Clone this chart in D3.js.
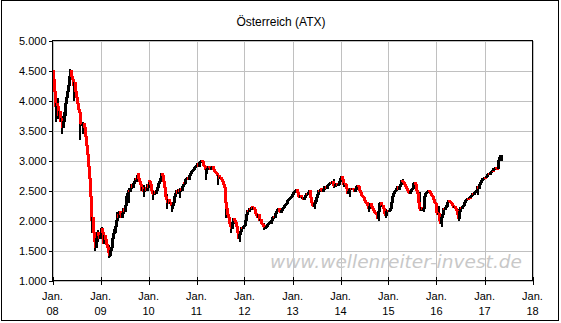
<!DOCTYPE html>
<html>
<head>
<meta charset="utf-8">
<script src="https://cdn.jsdelivr.net/npm/d3@7"></script>
<style>
    body { margin: 0; background: #fff; }
    svg text { font-family: Arial, "Liberation Sans", sans-serif; }
</style>
</head>
<body>
<div id="chart"></div>
<script>
// weekly closes (first week ends 2008-01-04)
const chartTitle = 'Österreich (ATX)';
const watermark = 'www.wellenreiter-invest.de';
const firstWeek = '2008-01-04';
const firstOpen = 4500;

const closes2008 = [4350, 4150, 3900, 3950, 3850, 3900, 3750, 3820, 3650, 3700, 3550, 3650,
    3800, 3950, 4050, 4150, 4250, 4300, 4400, 4500, 4400, 4350, 4250, 4300,
    4150, 4050, 3950, 3850, 3800, 3700, 3620, 3600, 3600, 3620, 3550, 3400,
    3250, 3100, 2900, 2700, 2400, 2000, 1900, 2050, 1800, 1650, 1550, 1700,
    1800, 1750, 1700, 1750];
const closes2009 = [1870, 1800, 1700, 1620, 1750, 1680, 1600, 1550, 1470, 1420, 1500, 1550,
    1700, 1780, 1850, 1800, 1900, 2000, 2100, 2050, 2150, 2100, 2050, 2120,
    2200, 2150, 2250, 2350, 2400, 2450, 2500, 2480, 2540, 2600, 2550, 2620,
    2650, 2700, 2680, 2750, 2780, 2700, 2650, 2600, 2500, 2550, 2480, 2520,
    2550, 2500, 2600, 2550];
const closes2010 = [2670, 2650, 2600, 2500, 2450, 2430, 2480, 2450, 2500, 2550, 2620, 2650,
    2700, 2720, 2780, 2750, 2650, 2550, 2400, 2350, 2300, 2350, 2280, 2300,
    2250, 2200, 2250, 2300, 2400, 2450, 2500, 2450, 2520, 2480, 2540, 2500,
    2560, 2600, 2640, 2620, 2680, 2700, 2720, 2680, 2750, 2780, 2820, 2840,
    2850, 2880, 2900, 2900];
const closes2011 = [2920, 2950, 2900, 2960, 2980, 3000, 2980, 2920, 2900, 2850, 2780, 2850,
    2870, 2900, 2880, 2850, 2880, 2900, 2850, 2820, 2800, 2780, 2750, 2720,
    2750, 2700, 2720, 2680, 2650, 2600, 2550, 2300, 2200, 2100, 2050, 1980,
    1950, 1900, 1870, 1950, 2030, 2000, 1970, 1900, 1800, 1700, 1760, 1820,
    1850, 1890, 1870, 1900];
const closes2012 = [1920, 2000, 2100, 2170, 2150, 2200, 2180, 2220, 2230, 2200, 2220, 2180,
    2110, 2080, 2050, 2100, 2000, 2020, 1950, 1930, 1900, 1920, 1880, 1890,
    1900, 1930, 1950, 1970, 1980, 2000, 2030, 2060, 2050, 2090, 2110, 2150,
    2180, 2200, 2150, 2140, 2170, 2200, 2220, 2250, 2260, 2290, 2300, 2330,
    2350, 2370, 2380, 2400];
const closes2013 = [2440, 2470, 2480, 2500, 2510, 2460, 2430, 2400, 2390, 2420, 2380, 2390,
    2350, 2380, 2420, 2450, 2440, 2460, 2500, 2480, 2380, 2300, 2250, 2230, 2280,
    2320, 2380, 2440, 2500, 2480, 2520, 2540, 2500, 2480, 2520, 2560, 2570, 2540,
    2580, 2600, 2620, 2640, 2620, 2650, 2600, 2580, 2560,
    2600, 2620, 2580, 2600, 2650];
const closes2014 = [2700, 2730, 2680, 2600, 2560, 2620, 2600, 2540, 2450, 2480, 2520, 2540, 2530,
    2540, 2510, 2480, 2510, 2540, 2560, 2580, 2560, 2500, 2470, 2420, 2400, 2380,
    2340, 2300, 2280, 2300, 2250, 2200, 2230, 2280, 2240, 2200, 2160, 2140, 2120,
    2100, 2030, 2150, 2200, 2280, 2300, 2250, 2250, 2200, 2120, 2080, 2150, 2170];
const closes2015 = [2150, 2170, 2180, 2200, 2300, 2400, 2450, 2480, 2500, 2540, 2560, 2520, 2560,
    2600, 2640, 2670, 2650, 2640, 2600, 2560, 2540, 2500, 2470, 2450, 2480, 2520,
    2540, 2580, 2620, 2640, 2600, 2500, 2450, 2300, 2200, 2170, 2220, 2180, 2200,
    2300, 2400, 2450, 2470, 2480, 2500, 2480, 2450, 2420, 2400, 2350, 2300, 2280];
const closes2016 = [2200, 2140, 2100, 2120, 2000, 1950, 2050, 2100, 2200, 2180, 2220, 2250, 2230,
    2300, 2340, 2320, 2300, 2280, 2250, 2220, 2240, 2200, 2170, 2100, 2030, 2080,
    2150, 2220, 2200, 2230, 2250, 2300, 2330, 2350, 2370, 2360, 2390, 2380, 2400,
    2420, 2450, 2430, 2460, 2480, 2500, 2560, 2540, 2600, 2640, 2670, 2680, 2700];
const closes2017 = [2700, 2720, 2710, 2740, 2760, 2780, 2770, 2800, 2820, 2840, 2830, 2860,
    2870, 2880, 2870, 2860, 3000, 3050, 3080];

// weekly high/low spikes that stick out of the bars: [week ending, low, high]
const wicks = [
    ['2008-01-25', 3650, 4000], ['2008-02-15', 3700, 4050], ['2008-03-14', 3450, 3750],
    ['2008-04-11', 3750, 4000], ['2008-05-16', 4350, 4530], ['2008-06-13', 4000, 4300],
    ['2008-08-01', 3350, 3700], ['2008-08-22', 3450, 3650], ['2008-10-24', 1800, 2250],
    ['2008-11-21', 1500, 1800], ['2008-12-12', 1650, 1850], ['2009-01-09', 1750, 1900],
    ['2009-03-06', 1380, 1600], ['2009-03-13', 1400, 1550], ['2009-05-08', 1950, 2150],
    ['2009-08-07', 2300, 2550], ['2009-10-16', 2650, 2800], ['2009-11-27', 2400, 2600],
    ['2010-02-05', 2350, 2500], ['2010-05-21', 2200, 2450], ['2010-07-02', 2150, 2300],
    ['2010-08-27', 2380, 2550], ['2011-03-18', 2670, 2900], ['2011-06-17', 2600, 2780],
    ['2011-08-12', 2050, 2350], ['2011-09-23', 1800, 1980], ['2011-11-25', 1650, 1830],
    ['2012-06-01', 1850, 1960], ['2012-07-27', 1950, 2060], ['2013-06-21', 2200, 2350],
    ['2013-11-15', 2550, 2700], ['2014-01-17', 2600, 2750], ['2014-03-14', 2400, 2540],
    ['2014-08-08', 2150, 2300], ['2014-10-17', 2000, 2200], ['2014-12-12', 2040, 2200],
    ['2015-04-24', 2600, 2700], ['2015-08-28', 2250, 2480], ['2015-09-25', 2150, 2300],
    ['2016-01-22', 2050, 2250], ['2016-02-12', 1900, 2050], ['2016-06-24', 1990, 2200],
    ['2016-11-11', 2420, 2560], ['2017-05-12', 3000, 3100]
];

const yTicks = [1000, 1500, 2000, 2500, 3000, 3500, 4000, 4500, 5000];
const xTickYears = [2008, 2009, 2010, 2011, 2012, 2013, 2014, 2015, 2016, 2017, 2018];
const xTickLabels = ['08', '09', '10', '11', '12', '13', '14', '15', '16', '17', '18'];

(function () {
    'use strict';

    let width = 561;
    let height = 323;
    let plot = { left: 52.5, right: 532.5, top: 40.5, bottom: 280.5 };
    let parseDay = d3.timeParse('%Y-%m-%d');

    let svg = d3.select('#chart').append('svg')
        .attr('width', width)
        .attr('height', height);

    svg.append('rect')
        .attr('x', 1.5).attr('y', 0.5)
        .attr('width', 557).attr('height', 320)
        .style('fill', '#fff')
        .style('stroke', '#000');

    svg.append('text')
        .attr('x', 281).attr('y', 26)
        .attr('text-anchor', 'middle')
        .style('font-size', '12px')
        .text(chartTitle);

    let xScale = d3.scaleTime()
        .domain([new Date(xTickYears[0], 0, 1), new Date(xTickYears[xTickYears.length - 1], 0, 1)])
        .range([plot.left, plot.right]);
    let yScale = d3.scaleLinear()
        .domain([yTicks[0], yTicks[yTicks.length - 1]])
        .range([plot.bottom, plot.top]);

    let de = d3.formatLocale({ decimal: ',', thousands: '.', grouping: [3], currency: ['', ' €'] });
    let fmt = de.format(',d');

    // grid
    let grid = svg.append('g').attr('class', 'grid')
        .style('stroke', '#c0c0c0')
        .style('shape-rendering', 'crispEdges');
    grid.selectAll('.gx')
        .data(xTickYears)
        .enter().append('line')
        .attr('x1', function (d) { return Math.round(xScale(new Date(d, 0, 1))) + 0.5; })
        .attr('x2', function (d) { return Math.round(xScale(new Date(d, 0, 1))) + 0.5; })
        .attr('y1', plot.top)
        .attr('y2', plot.bottom);
    grid.selectAll('.gy')
        .data(yTicks)
        .enter().append('line')
        .attr('x1', plot.left)
        .attr('x2', plot.right)
        .attr('y1', function (d) { return Math.round(yScale(d)) + 0.5; })
        .attr('y2', function (d) { return Math.round(yScale(d)) + 0.5; });

    svg.append('text')
        .attr('x', 396).attr('y', 268)
        .attr('text-anchor', 'middle')
        .attr('textLength', 252)
        .attr('lengthAdjust', 'spacingAndGlyphs')
        .style('font-family', '"DejaVu Sans", Verdana, sans-serif')
        .style('font-style', 'italic')
        .style('font-size', '17px')
        .style('fill', '#c8c8c8')
        .text(watermark);

    // weekly bars: open = previous close
    let start = parseDay(firstWeek);
    let closes = [].concat(closes2008, closes2009, closes2010, closes2011, closes2012,
        closes2013, closes2014, closes2015, closes2016, closes2017);
    let bars = closes.map(function (c, i) {
        return {
            date: d3.timeDay.offset(start, i * 7),
            open: i === 0 ? firstOpen : closes[i - 1],
            close: c
        };
    });

    svg.append('g').attr('class', 'wicks')
        .style('shape-rendering', 'crispEdges')
        .selectAll('rect')
        .data(wicks)
        .enter().append('rect')
        .attr('x', function (d) { return Math.round(xScale(parseDay(d[0]))) - 1; })
        .attr('y', function (d) { return yScale(d[2]); })
        .attr('width', 2)
        .attr('height', function (d) { return yScale(d[1]) - yScale(d[2]); })
        .style('fill', '#000');

    svg.append('g').attr('class', 'bars')
        .style('shape-rendering', 'crispEdges')
        .selectAll('rect')
        .data(bars)
        .enter().append('rect')
        .attr('x', function (d) { return Math.round(xScale(d.date)) - 1; })
        .attr('y', function (d) { return yScale(Math.max(d.open, d.close)) - 0.5; })
        .attr('width', 3)
        .attr('height', function (d) {
            return Math.max(2, Math.abs(yScale(d.open) - yScale(d.close)) + 1);
        })
        .style('fill', function (d) { return d.close < d.open ? '#ff0000' : '#000000'; });

    // frame + axes
    svg.append('rect')
        .attr('x', plot.left).attr('y', plot.top)
        .attr('width', plot.right - plot.left)
        .attr('height', plot.bottom - plot.top)
        .style('fill', 'none')
        .style('stroke', '#000')
        .style('shape-rendering', 'crispEdges');

    let yAxis = svg.append('g').style('shape-rendering', 'crispEdges');
    yAxis.selectAll('line')
        .data(yTicks)
        .enter().append('line')
        .attr('x1', plot.left - 4)
        .attr('x2', plot.left)
        .attr('y1', function (d) { return Math.round(yScale(d)) + 0.5; })
        .attr('y2', function (d) { return Math.round(yScale(d)) + 0.5; })
        .style('stroke', '#000');
    yAxis.selectAll('text')
        .data(yTicks)
        .enter().append('text')
        .attr('x', plot.left - 6)
        .attr('y', function (d) { return yScale(d) + 4; })
        .attr('text-anchor', 'end')
        .style('font-size', '11px')
        .text(function (d) { return fmt(d); });

    let xAxis = svg.append('g').style('shape-rendering', 'crispEdges');
    xAxis.selectAll('line')
        .data(xTickYears)
        .enter().append('line')
        .attr('x1', function (d) { return Math.round(xScale(new Date(d, 0, 1))) + 0.5; })
        .attr('x2', function (d) { return Math.round(xScale(new Date(d, 0, 1))) + 0.5; })
        .attr('y1', plot.bottom - 4)
        .attr('y2', plot.bottom + 4)
        .style('stroke', '#000');
    let xLabels = xAxis.selectAll('text')
        .data(xTickYears)
        .enter().append('text')
        .attr('text-anchor', 'middle')
        .style('font-size', '11px');
    xLabels.append('tspan')
        .attr('x', function (d) { return xScale(new Date(d, 0, 1)); })
        .attr('y', 300)
        .text('Jan.');
    xLabels.append('tspan')
        .attr('x', function (d) { return xScale(new Date(d, 0, 1)); })
        .attr('y', 315)
        .text(function (d, i) { return xTickLabels[i]; });
})();
</script>
</body>
</html>
